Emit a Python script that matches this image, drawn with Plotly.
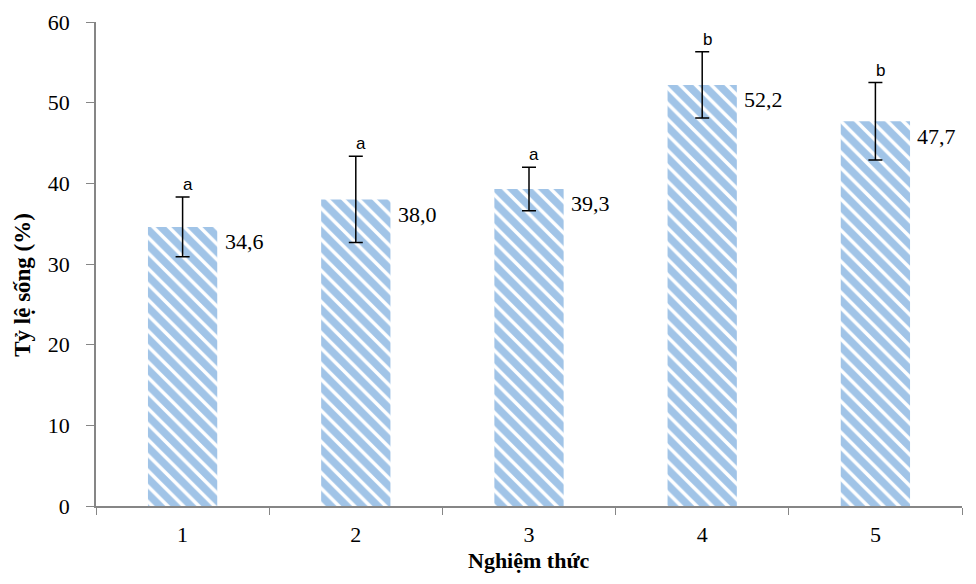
import plotly.graph_objects as go

categories = ["1", "2", "3", "4", "5"]
values = [34.6, 38.0, 39.3, 52.2, 47.7]
errors = [3.7, 5.35, 2.7, 4.1, 4.8]
letters = ["a", "a", "a", "b", "b"]
value_labels = ["34,6", "38,0", "39,3", "52,2", "47,7"]
x_title = "Nghiệm thức"
y_title = "Tỷ lệ sống (%)"

serif = "Liberation Serif, Times New Roman, serif"

fig = go.Figure()
fig.add_trace(go.Bar(
    x=categories, y=values, width=0.4,
    marker=dict(color="white", line=dict(width=0),
                pattern=dict(shape="\\", fgcolor="#4389CF", bgcolor="white",
                             size=11, solidity=0.68)),
    error_y=dict(type="data", array=errors, visible=True, color="black",
                 thickness=1.5, width=7),
    showlegend=False,
))

for i, (v, e, lt, lab) in enumerate(zip(values, errors, letters, value_labels)):
    fig.add_annotation(x=i, y=v, text=lab, showarrow=False, xanchor="left",
                       yanchor="middle", xshift=40, yshift=-15,
                       font=dict(family=serif, size=22, color="black"))
    fig.add_annotation(x=i, y=v + e, text=lt, showarrow=False, xanchor="center",
                       yanchor="bottom", xshift=5, yshift=1,
                       font=dict(family="Liberation Sans, Arial, sans-serif", size=17, color="black"))

# axis titles
fig.add_annotation(xref="paper", yref="paper", x=0.5, y=0, yshift=-69,
                   text="<b>" + x_title + "</b>", showarrow=False,
                   xanchor="center", yanchor="bottom",
                   font=dict(family=serif, size=22, color="black"))
fig.add_annotation(xref="paper", yref="paper", x=0, y=0.457, xshift=-73,
                   text="<b>" + y_title + "</b>", showarrow=False, textangle=-90,
                   xanchor="center", yanchor="middle",
                   font=dict(family=serif, size=23, color="black"))

fig.update_layout(
    width=960, height=568,
    margin=dict(l=88, r=6, t=14, b=70),
    plot_bgcolor="white", paper_bgcolor="white",
    xaxis=dict(
        type="category", range=[-0.5, 4.5], automargin=False,
        showline=True, linecolor="#868686", linewidth=1.5,
        ticks="outside", tickson="boundaries", ticklen=7, tickcolor="#868686",
        tickfont=dict(family=serif, size=22, color="black"),
        ticklabelstandoff=8,
        showgrid=False,
    ),
    yaxis=dict(
        range=[0, 60], dtick=10, automargin=False,
        showline=True, linecolor="#868686", linewidth=1.5,
        ticks="outside", ticklen=8, tickcolor="#868686",
        tickfont=dict(family=serif, size=22, color="black"),
        ticklabelstandoff=12,
        showgrid=False, zeroline=False,
    ),
)

fig.write_html("out.html")
